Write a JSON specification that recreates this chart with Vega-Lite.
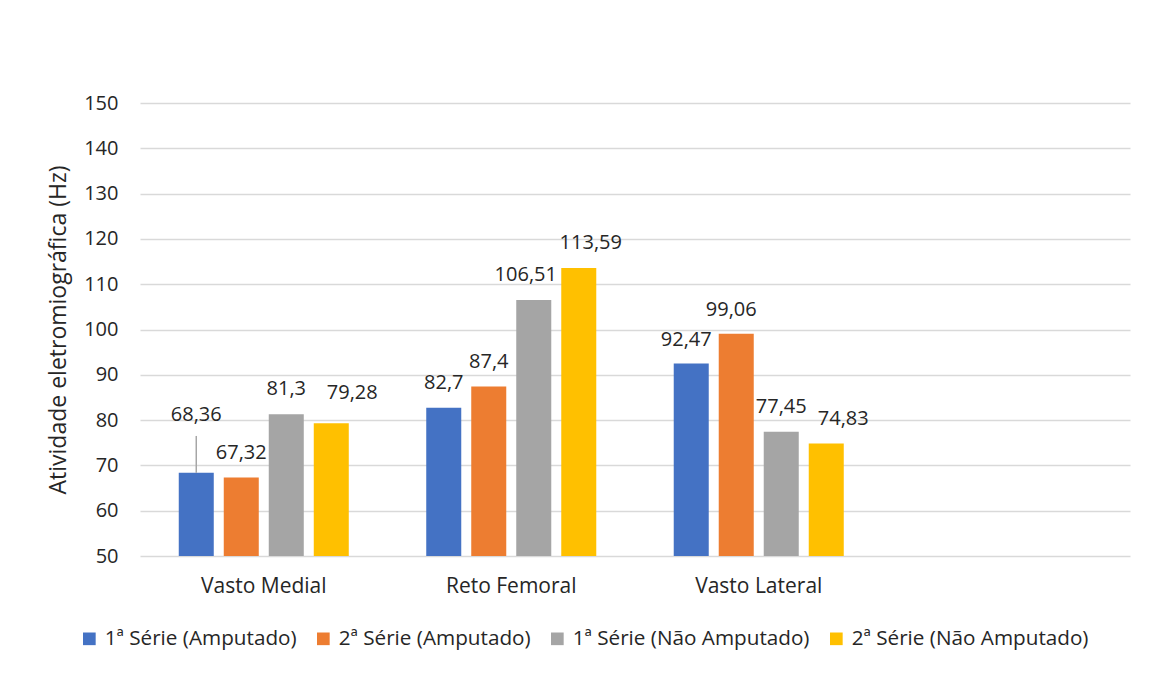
{
  "$schema": "https://vega.github.io/schema/vega-lite/v6.json",
  "width": 990,
  "height": 453,
  "autosize": {"type": "none"},
  "padding": {"left": 140, "top": 103, "right": 29, "bottom": 117},
  "background": "white",
  "config": {
    "view": {"stroke": null},
    "font": "Open Sans",
    "locale": {"number": {"decimal": ",", "thousands": ".", "grouping": [3], "currency": ["", " €"]}},
    "text": {"baseline": "middle", "fontSize": 20, "color": "#262626"}
  },
  "data": {
    "values": [
      {"musculo": "Vasto Medial", "serie": "1ª Série (Amputado)", "valor": 68.36},
      {"musculo": "Vasto Medial", "serie": "2ª Série (Amputado)", "valor": 67.32},
      {"musculo": "Vasto Medial", "serie": "1ª Série (Não Amputado)", "valor": 81.3},
      {"musculo": "Vasto Medial", "serie": "2ª Série (Não Amputado)", "valor": 79.28},
      {"musculo": "Reto Femoral", "serie": "1ª Série (Amputado)", "valor": 82.7},
      {"musculo": "Reto Femoral", "serie": "2ª Série (Amputado)", "valor": 87.4},
      {"musculo": "Reto Femoral", "serie": "1ª Série (Não Amputado)", "valor": 106.51},
      {"musculo": "Reto Femoral", "serie": "2ª Série (Não Amputado)", "valor": 113.59},
      {"musculo": "Vasto Lateral", "serie": "1ª Série (Amputado)", "valor": 92.47},
      {"musculo": "Vasto Lateral", "serie": "2ª Série (Amputado)", "valor": 99.06},
      {"musculo": "Vasto Lateral", "serie": "1ª Série (Não Amputado)", "valor": 77.45},
      {"musculo": "Vasto Lateral", "serie": "2ª Série (Não Amputado)", "valor": 74.83}
    ]
  },
  "encoding": {
    "x": {
      "field": "musculo",
      "type": "nominal",
      "scale": {
        "domain": ["Vasto Medial", "Reto Femoral", "Vasto Lateral", ""],
        "paddingInner": 0.313,
        "paddingOuter": 0.1566
      },
      "axis": {
        "title": null,
        "labelAngle": 0,
        "domain": false,
        "ticks": false,
        "labelPadding": 19,
        "labelFontSize": 21,
        "labelColor": "#262626"
      }
    },
    "xOffset": {
      "field": "serie",
      "type": "nominal",
      "scale": {
        "domain": ["1ª Série (Amputado)", "2ª Série (Amputado)", "1ª Série (Não Amputado)", "2ª Série (Não Amputado)"],
        "paddingInner": 0.222,
        "paddingOuter": 0
      }
    },
    "y": {
      "field": "valor",
      "type": "quantitative",
      "scale": {"domain": [50, 150], "nice": false, "zero": false},
      "axis": {
        "title": "Atividade eletromiográfica (Hz)",
        "titleFontSize": 23,
        "titleFontWeight": "normal",
        "titleColor": "#262626",
        "titlePadding": 13,
        "values": [50, 60, 70, 80, 90, 100, 110, 120, 130, 140, 150],
        "domain": false,
        "ticks": false,
        "labelPadding": 22,
        "labelFontSize": 20,
        "labelColor": "#262626",
        "gridColor": "#d9d9d9",
        "gridWidth": 1.3
      }
    },
    "text": {"field": "valor", "type": "quantitative", "format": ".2~f"}
  },
  "layer": [
    {
      "mark": {"type": "bar"},
      "encoding": {
        "text": null,
        "y2": {"datum": 50},
        "color": {
          "field": "serie",
          "type": "nominal",
          "scale": {
            "domain": ["1ª Série (Amputado)", "2ª Série (Amputado)", "1ª Série (Não Amputado)", "2ª Série (Não Amputado)"],
            "range": ["#4472C4", "#ED7D31", "#A5A5A5", "#FFC000"]
          },
          "legend": {
            "title": null,
            "orient": "none",
            "direction": "horizontal",
            "legendX": -61,
            "legendY": 525,
            "symbolType": "square",
            "symbolSize": 160,
            "symbolStrokeWidth": 0,
            "labelFontSize": 20.7,
            "labelColor": "#262626",
            "labelLimit": 0,
            "labelOffset": 5,
            "columnPadding": 16
          }
        }
      }
    },
    {
      "transform": [{"filter": "(datum.musculo == 'Vasto Medial' && datum.serie != '1ª Série (Amputado)' && datum.serie != '2ª Série (Não Amputado)') || datum.valor == 82.7 || datum.valor == 87.4 || datum.valor == 77.45"}],
      "mark": {"type": "text", "dy": -25}
    },
    {
      "transform": [{"filter": "datum.valor == 79.28"}],
      "mark": {"type": "text", "dy": -30, "dx": 21}
    },
    {
      "transform": [{"filter": "datum.valor == 74.83"}],
      "mark": {"type": "text", "dy": -25, "dx": 17}
    },
    {
      "transform": [{"filter": "datum.valor == 113.59"}],
      "mark": {"type": "text", "dy": -25, "dx": 12}
    },
    {
      "transform": [{"filter": "datum.valor == 106.51"}],
      "mark": {"type": "text", "dy": -25, "dx": -8}
    },
    {
      "transform": [{"filter": "datum.valor == 92.47 || datum.valor == 99.06"}],
      "mark": {"type": "text", "dy": -24, "dx": -5}
    },
    {
      "transform": [{"filter": "datum.valor == 68.36"}],
      "mark": {"type": "rule", "color": "#a6a6a6", "strokeWidth": 1.5},
      "encoding": {"text": null, "y2": {"datum": 76.5}}
    },
    {
      "transform": [{"filter": "datum.valor == 68.36"}],
      "mark": {"type": "text", "dy": -58}
    }
  ]
}
